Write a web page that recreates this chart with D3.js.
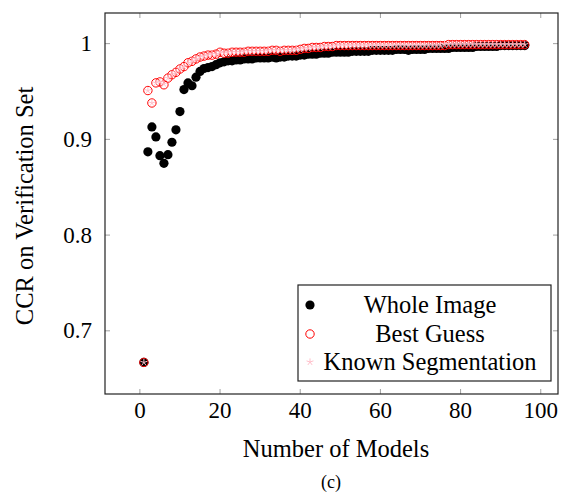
<!DOCTYPE html>
<html>
<head>
<meta charset="utf-8">
<script src="https://cdn.jsdelivr.net/npm/d3@7"></script>
<style>
  body { margin: 0; background: #fff; }
</style>
</head>
<body>
<svg id="chart" width="561" height="494"></svg>
<script>
// Number of models (x) and CCR for each approach
const models = d3.range(1, 97);

const wholeImage = [
  0.667, 0.887, 0.913, 0.9025, 0.883, 0.875, 0.884, 0.897, 0.910, 0.929,
  0.952, 0.959, 0.956, 0.965, 0.971, 0.974, 0.975, 0.976, 0.978, 0.980,
  0.981, 0.982, 0.982, 0.983, 0.983, 0.984, 0.984, 0.984, 0.985, 0.985,
  0.985, 0.985, 0.986, 0.985, 0.986, 0.986, 0.987, 0.987, 0.987, 0.988,
  0.988, 0.989, 0.989, 0.989, 0.990, 0.990, 0.990, 0.991, 0.991, 0.991,
  0.991, 0.991, 0.992, 0.992, 0.992, 0.992, 0.992, 0.993, 0.993, 0.993,
  0.993, 0.993, 0.993, 0.994, 0.994, 0.994, 0.993, 0.994, 0.994, 0.994,
  0.994, 0.995, 0.995, 0.995, 0.995, 0.995, 0.995, 0.996, 0.996, 0.996,
  0.996, 0.996, 0.996, 0.997, 0.997, 0.997, 0.997, 0.997, 0.997, 0.998,
  0.998, 0.998, 0.998, 0.998, 0.998, 0.998
];

const bestGuess = [
  0.667, 0.951, 0.938, 0.959, 0.960, 0.957, 0.964, 0.9675, 0.970, 0.9735,
  0.976, 0.980, 0.9815, 0.984, 0.986, 0.987, 0.988, 0.988, 0.989, 0.991,
  0.990, 0.990, 0.991, 0.991, 0.991, 0.991, 0.992, 0.992, 0.992, 0.992,
  0.992, 0.992, 0.993, 0.993, 0.992, 0.993, 0.993, 0.993, 0.993, 0.994,
  0.995, 0.995, 0.996, 0.996, 0.996, 0.997, 0.997, 0.997, 0.998, 0.998,
  0.998, 0.998, 0.998, 0.998, 0.998, 0.998, 0.998, 0.998, 0.998, 0.998,
  0.998, 0.998, 0.998, 0.998, 0.998, 0.998, 0.998, 0.998, 0.998, 0.998,
  0.998, 0.998, 0.998, 0.998, 0.998, 0.998, 0.999, 0.999, 0.999, 0.999,
  0.999, 0.999, 0.999, 0.999, 0.999, 0.999, 0.999, 0.999, 0.999, 0.999,
  0.999, 0.999, 0.999, 0.999, 0.999, 0.999
];

const knownSegmentation = [
  0.667, 0.951, 0.938, 0.959, 0.960, 0.958, 0.964, 0.968, 0.970, 0.974,
  0.976, 0.980, 0.982, 0.984, 0.986, 0.987, 0.988, 0.989, 0.989, 0.991,
  0.990, 0.991, 0.991, 0.991, 0.991, 0.992, 0.992, 0.992, 0.992, 0.992,
  0.992, 0.993, 0.993, 0.993, 0.993, 0.993, 0.993, 0.993, 0.994, 0.994,
  0.995, 0.995, 0.996, 0.996, 0.996, 0.997, 0.997, 0.997, 0.998, 0.998,
  0.998, 0.998, 0.998, 0.998, 0.998, 0.998, 0.998, 0.998, 0.998, 0.998,
  0.998, 0.998, 0.998, 0.998, 0.998, 0.998, 0.998, 0.998, 0.998, 0.998,
  0.998, 0.998, 0.998, 0.998, 0.998, 0.999, 0.999, 0.999, 0.999, 0.999,
  0.999, 0.999, 0.999, 0.999, 0.999, 0.999, 0.999, 0.999, 0.999, 0.999,
  0.999, 0.999, 0.999, 0.999, 0.999, 0.999
];

const xTicks = [0, 20, 40, 60, 80, 100];
const yTicks = [0.7, 0.8, 0.9, 1];
const seriesNames = ['Whole Image', 'Best Guess', 'Known Segmentation'];

const serif = "'Liberation Serif', 'DejaVu Serif', 'Times New Roman', Times, 'Noto Serif', serif";

const svg = d3.select('#chart')
  .attr('font-family', serif);
const margin = { top: 13, right: 3, bottom: 100, left: 105 };
const width = 561 - margin.left - margin.right;
const height = 494 - margin.top - margin.bottom;

const x = d3.scaleLinear().domain([-8.7, 104.3]).range([0, width]);
const y = d3.scaleLinear().domain([0.634, 1.032]).range([height, 0]);

const g = svg.append('g').attr('transform', `translate(${margin.left},${margin.top})`);

// Inward ticks on all four sides (pgfplots style)
const tickLen = 5;
const tickColor = '#a0a0a0';
xTicks.forEach(t => {
  g.append('line').attr('x1', x(t)).attr('x2', x(t)).attr('y1', height).attr('y2', height - tickLen)
    .attr('stroke', tickColor);
  g.append('line').attr('x1', x(t)).attr('x2', x(t)).attr('y1', 0).attr('y2', tickLen)
    .attr('stroke', tickColor);
});
yTicks.forEach(t => {
  g.append('line').attr('x1', 0).attr('x2', tickLen).attr('y1', y(t)).attr('y2', y(t))
    .attr('stroke', tickColor);
  g.append('line').attr('x1', width).attr('x2', width - tickLen).attr('y1', y(t)).attr('y2', y(t))
    .attr('stroke', tickColor);
});

// Tick labels
g.selectAll('.xlab').data(xTicks).enter().append('text')
  .attr('x', d => x(d)).attr('y', height + 24)
  .attr('text-anchor', 'middle').attr('font-size', '23px')
  .attr('font-family', serif)
  .text(d => d);
g.selectAll('.ylab').data(yTicks).enter().append('text')
  .attr('x', -13).attr('y', d => y(d) + 7.5)
  .attr('text-anchor', 'end').attr('font-size', '23px')
  .attr('font-family', serif)
  .text(d => d3.format('~g')(d));

// Star (asterisk) marker path
const starPath = r => {
  let p = '';
  for (let i = 0; i < 5; i++) {
    const a = -Math.PI / 2 + i * 2 * Math.PI / 5;
    p += `M0,0L${r * Math.cos(a)},${r * Math.sin(a)}`;
  }
  return p;
};

const plot = g.append('g');

// Whole Image: filled black circles
plot.selectAll('.whole').data(models).enter().append('circle')
  .attr('cx', d => x(d)).attr('cy', (d, i) => y(wholeImage[i]))
  .attr('r', 4.6).attr('fill', '#000');

// Best Guess: open red circles
plot.selectAll('.best').data(models).enter().append('circle')
  .attr('cx', d => x(d)).attr('cy', (d, i) => y(bestGuess[i]))
  .attr('r', 4.2).attr('fill', 'none').attr('stroke', '#ff0000').attr('stroke-width', 1);

// Known Segmentation: pink stars
plot.selectAll('.known').data(models).enter().append('path')
  .attr('transform', (d, i) => `translate(${x(d)},${y(knownSegmentation[i])})`)
  .attr('d', starPath(3.6)).attr('fill', 'none')
  .attr('stroke', '#ffc0cb').attr('stroke-width', 1);

// Frame
g.append('rect').attr('width', width).attr('height', height)
  .attr('fill', 'none').attr('stroke', '#222').attr('stroke-width', 1.2);

// Legend
const legend = g.append('g').attr('transform', `translate(${298 - margin.left},${285 - margin.top})`);
legend.append('rect').attr('width', 253).attr('height', 96)
  .attr('fill', '#fff').attr('stroke', '#222').attr('stroke-width', 1.2);
const rowY = [20, 49, 77];
legend.append('circle').attr('cx', 12).attr('cy', rowY[0]).attr('r', 4.6).attr('fill', '#000');
legend.append('circle').attr('cx', 12).attr('cy', rowY[1]).attr('r', 4.2)
  .attr('fill', 'none').attr('stroke', '#ff0000');
legend.append('path').attr('transform', `translate(12,${rowY[2]})`).attr('d', starPath(3.6))
  .attr('fill', 'none').attr('stroke', '#ffc0cb');
legend.selectAll('.ltext').data(seriesNames).enter().append('text')
  .attr('x', 132).attr('y', (d, i) => rowY[i] + 8)
  .attr('text-anchor', 'middle').attr('font-size', '24.5px')
  .attr('font-family', serif)
  .text(d => d);

// Axis titles
svg.append('text').attr('x', 336).attr('y', 457)
  .attr('text-anchor', 'middle').attr('font-size', '24.5px').attr('font-family', serif)
  .text('Number of Models');
svg.append('text').attr('transform', 'translate(33,206) rotate(-90)')
  .attr('text-anchor', 'middle').attr('font-size', '24.5px').attr('font-family', serif)
  .text('CCR on Verification Set');
svg.append('text').attr('x', 331).attr('y', 488)
  .attr('text-anchor', 'middle').attr('font-size', '18px').attr('font-family', serif)
  .text('(c)');
</script>
</body>
</html>
